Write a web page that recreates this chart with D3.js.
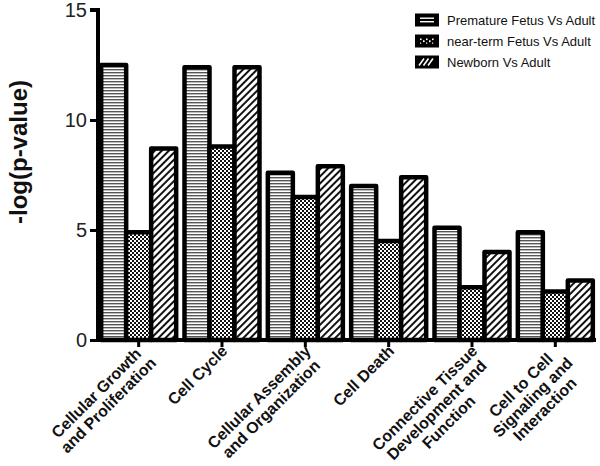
<!DOCTYPE html>
<html><head><meta charset="utf-8">
<script src="https://cdn.jsdelivr.net/npm/d3@7"></script>
<style>body{margin:0;background:#fff}svg{display:block}</style></head><body>
<svg id="c" width="600" height="466"></svg>
<script>
const categories = [
  ["Cellular Growth","and Proliferation"],
  ["Cell Cycle"],
  ["Cellular Assembly","and Organization"],
  ["Cell Death"],
  ["Connective Tissue","Development and","Function"],
  ["Cell to Cell","Signaling and","Interaction"]
];
const seriesNames = ["Premature Fetus Vs Adult","near-term Fetus Vs Adult","Newborn Vs Adult"];
const premature = [12.5, 12.4, 7.6, 7.0, 5.1, 4.9];
const nearTerm  = [4.9, 8.8, 6.5, 4.5, 2.4, 2.2];
const newborn   = [8.7, 12.4, 7.9, 7.4, 4.0, 2.7];
const yTicks = [0, 5, 10, 15];
const yLabel = "-log(p-value)";

const series = [premature, nearTerm, newborn];
const patternIds = ["pH", "pD", "pN"];
const FONT = "Arial, 'Liberation Sans', sans-serif";

const svg = d3.select("#c");
const defs = svg.append("defs");
// horizontal stripes
const pH = defs.append("pattern").attr("id","pH").attr("patternUnits","userSpaceOnUse").attr("width",4).attr("height",3);
pH.append("rect").attr("width",4).attr("height",3).attr("fill","#fff");
pH.append("rect").attr("width",4).attr("height",1.4).attr("fill","#555");
// checker dots
const pD = defs.append("pattern").attr("id","pD").attr("patternUnits","userSpaceOnUse").attr("width",4).attr("height",4);
pD.append("rect").attr("width",4).attr("height",4).attr("fill","#fff");
pD.append("rect").attr("width",2).attr("height",2).attr("fill","#111");
pD.append("rect").attr("x",2).attr("y",2).attr("width",2).attr("height",2).attr("fill","#111");
// diagonal hatch
const pN = defs.append("pattern").attr("id","pN").attr("patternUnits","userSpaceOnUse").attr("width",5).attr("height",5).attr("patternTransform","rotate(45)");
pN.append("rect").attr("width",5).attr("height",5).attr("fill","#fff");
pN.append("rect").attr("width",2).attr("height",5).attr("fill","#111");

const x = d3.scaleBand().domain(d3.range(categories.length)).range([97, 597]);
const y = d3.scaleLinear().domain([0, 15]).range([340, 10]);
const barW = 25;
const xs = d3.scaleBand().domain(d3.range(series.length)).range([-barW*1.5, barW*1.5]);

// bars
series.forEach((vals, si) => {
  svg.append("g").selectAll("rect").data(vals).join("rect")
    .attr("x", (d,i) => x(i) + x.bandwidth()/2 + xs(si))
    .attr("y", d => y(d))
    .attr("width", xs.bandwidth())
    .attr("height", d => y(0) - y(d))
    .attr("fill", `url(#${patternIds[si]})`)
    .attr("stroke", "#000").attr("stroke-width", 4.5)
    .attr("stroke-linejoin","round");
});

// y axis
const yAxis = svg.append("g").attr("transform","translate(98,0)")
  .call(d3.axisLeft(y).tickValues(yTicks).tickSize(8).tickPadding(3).tickFormat(d3.format("d")));
yAxis.select(".domain").attr("stroke","#000").attr("stroke-width",4).attr("d","M-8,10H0V340");
yAxis.selectAll(".tick line").attr("stroke","#000").attr("stroke-width",3);
yAxis.selectAll(".tick text").attr("font-family",FONT).attr("font-size",20).attr("fill","#222");

// x axis
const xAxis = svg.append("g").attr("transform","translate(0,340)")
  .call(d3.axisBottom(x).tickSize(7).tickFormat(""));
xAxis.select(".domain").attr("stroke","#000").attr("stroke-width",4).attr("d","M96,0H596");
xAxis.selectAll(".tick line").attr("stroke","#000").attr("stroke-width",3);

// x labels (rotated blocks, lines centred, block right edge near tick)
const lh = 17;
categories.forEach((lines, i) => {
  const cx = x(i) + x.bandwidth()/2;
  const g = svg.append("g").attr("transform", `translate(${cx+6.4},${352}) rotate(-45)`)
    .attr("font-family",FONT).attr("font-size",16).attr("font-weight","bold").attr("fill","#111");
  const ts = lines.map((ln, k) => g.append("text").attr("text-anchor","middle").attr("y", k*lh).text(ln));
  const W = d3.max(ts, t => t.node().getComputedTextLength());
  ts.forEach(t => t.attr("x", -W/2));
});

// y label
svg.append("text").attr("transform","translate(27,152) rotate(-90)")
  .attr("text-anchor","middle").attr("font-family",FONT).attr("font-size",24).attr("font-weight","bold")
  .attr("fill","#111").text(yLabel);

// legend
const lg = svg.append("g").attr("font-family",FONT).attr("font-size",13).attr("fill","#111");
const rowY = [20, 41, 62];
seriesNames.forEach((name, si) => {
  const gy = rowY[si];
  const sx = 415, sw = 24, sh = 13, sy = gy - 6.5;
  lg.append("rect").attr("x",sx).attr("y",sy).attr("width",sw).attr("height",sh).attr("fill","#000");
  if (si === 0) {
    [sy+4, sy+7.5].forEach(yy => lg.append("rect").attr("x",sx+5).attr("y",yy).attr("width",sw-10).attr("height",1.4).attr("fill","#fff"));
  } else if (si === 1) {
    for (let k = 0; k < 5; k++) {
      lg.append("rect").attr("x",sx+5+k*3).attr("y",sy+4+(k%2)*2).attr("width",1.6).attr("height",1.6).attr("fill","#fff");
      lg.append("rect").attr("x",sx+5+k*3).attr("y",sy+4+((k+1)%2)*2+2).attr("width",1.2).attr("height",1.2).attr("fill","#fff");
    }
  } else {
    for (let k = 0; k < 3; k++) {
      lg.append("line").attr("x1",sx+4+k*4.5).attr("y1",sy+sh-3).attr("x2",sx+9+k*4.5).attr("y2",sy+3)
        .attr("stroke","#fff").attr("stroke-width",1.6);
    }
  }
  lg.append("text").attr("x",447).attr("y",gy).attr("dy","0.35em").text(name);
});
</script>
</body></html>
